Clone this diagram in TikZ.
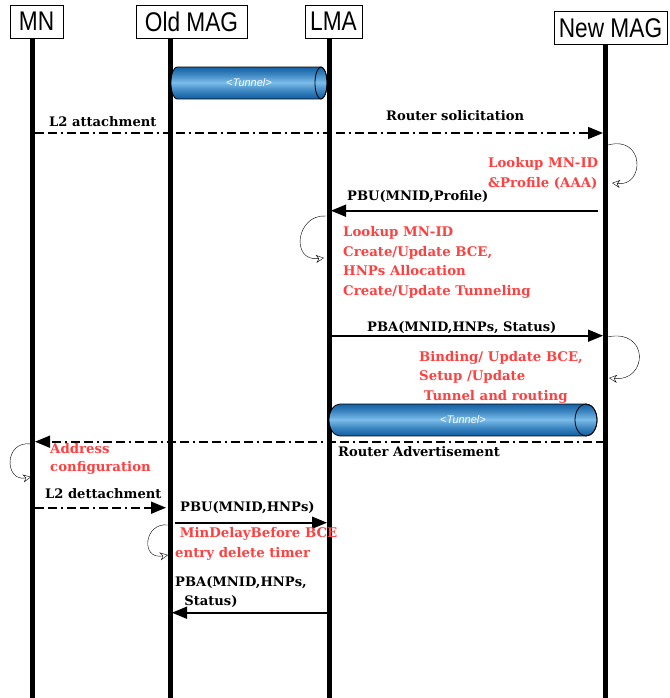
\documentclass[tikz,border=0pt]{standalone}
\usepackage{fontspec}
\setmainfont{DejaVu Serif}
\newfontfamily\hdfont{Liberation Sans}
\newfontfamily\tnfont{Liberation Sans}
\usetikzlibrary{arrows.meta}
\definecolor{notered}{RGB}{255,64,64}
\definecolor{tunneldark}{RGB}{20,98,166}
\definecolor{tunnellight}{RGB}{125,190,235}
\newcommand{\hd}[1]{\scalebox{0.84}[1]{#1}}
\tikzset{
	head/.style={draw, thick, fill=white, font=\hdfont\fontsize{27}{27}\selectfont, minimum height=33pt, inner sep=1pt},
	life/.style={line width=5pt},
	msg/.style={line width=1.6pt, -{Triangle[length=15pt,width=12pt]}},
	async/.style={msg, dash pattern=on 9pt off 4pt on 9pt off 4pt on 2pt off 4pt},
	loopy/.style={thin, -{Stealth[open,length=8pt,width=8pt]}},
	lbl/.style={font=\bfseries\fontsize{13.1}{19}\selectfont, inner sep=0pt, anchor=base west, align=left},
	note/.style={text=notered, font=\bfseries\fontsize{13.3}{19.4}\selectfont, align=left, inner sep=0pt, anchor=base west},
	tunlabel/.style={text=white, font=\tnfont\itshape\fontsize{11}{11}\selectfont}
}
\begin{document}
\begin{tikzpicture}[x=1pt, y=-1pt]
	\useasboundingbox (0,0) rectangle (669,698);

	% entities
	\node[head, minimum width=53pt] (mn) at (36.5,21.5) {\hd{MN}};
	\node[head, minimum width=111pt] (oldmag) at (191.5,21.5) {\hd{Old MAG}};
	\node[head, minimum width=57pt] (lma) at (333.5,21.5) {\hd{LMA}};
	\node[head, minimum width=113pt] (newmag) at (610.5,28) {\hd{New MAG}};

	% lifelines
	\coordinate (mnx) at (32,698);
	\coordinate (omx) at (170,698);
	\coordinate (lmax) at (329,698);
	\coordinate (nmx) at (605,698);
	\draw[life] (mn.south -| mnx) -- (mnx);
	\draw[life] (oldmag.south -| omx) -- (omx);
	\draw[life] (lma.south -| lmax) -- (lmax);
	\draw[life] (newmag.south -| nmx) -- (nmx);

	% old tunnel
	\begin{scope}
		\clip (177,67) -- (321,67) arc[start angle=-90, end angle=90, x radius=6, y radius=16]
			-- (177,99) arc[start angle=90, end angle=270, x radius=6, y radius=16] -- cycle;
		\foreach \i in {0,...,31} {
			\pgfmathsetmacro\mix{100*(1-abs(\i-15.5)/16)^1.3}
			\fill[tunnellight!\mix!tunneldark] (170,67+\i) rectangle (328,68.2+\i);
		}
	\end{scope}
	\draw[thick] (177,67) -- (321,67) arc[start angle=-90, end angle=90, x radius=6, y radius=16]
		-- (177,99) arc[start angle=90, end angle=270, x radius=6, y radius=16] -- cycle;
	\draw[thick] (321,83) ellipse[x radius=6, y radius=16];
	\node[tunlabel] (tun1) at (249,83) {<Tunnel>};

	% attachment
	\coordinate (mn-att) at (35,133);
	\coordinate (nm-att) at (603,133);
	\draw[async] (mn-att) -- (nm-att);
	\node[lbl] (l2att) at (49,126) {L2 attachment};
	\node[lbl] (rsol) at (386,120.7) {Router solicitation};

	\draw[loopy] (608,145) .. controls (645,135) and (645,187) .. (612,183);
	\node[note] (aaa) at (488,187.3) {Lookup MN-ID\\\&Profile (AAA)};

	% PBU
	\coordinate (nm-pbu) at (598,210.7);
	\coordinate (lma-pbu) at (331,210.7);
	\draw[msg] (nm-pbu) -- (lma-pbu);
	\node[lbl] (pbu) at (347,200.7) {PBU(MNID,Profile)};

	\draw[loopy] (326,216) .. controls (296,214) and (290,262) .. (324,258);
	\node[note] (bce) at (343,295) {Lookup MN-ID\\Create/Update BCE,\\HNPs Allocation\\Create/Update Tunneling};

	% PBA
	\coordinate (lma-pba) at (331,335.7);
	\coordinate (nm-pba) at (603,335.7);
	\draw[msg] (lma-pba) -- (nm-pba);
	\node[lbl] (pba) at (367,331.7) {PBA(MNID,HNPs, Status)};

	\draw[loopy] (607,337) .. controls (650,328) and (648,382) .. (609,378);
	\node[note] (bind) at (419,400) {Binding/ Update BCE,\\Setup /Update\\\ Tunnel and routing};

	% new tunnel
	\begin{scope}
		\clip (340,404) -- (586,404) arc[start angle=-90, end angle=90, x radius=11, y radius=16]
			-- (340,436) arc[start angle=90, end angle=270, x radius=11, y radius=16] -- cycle;
		\foreach \i in {0,...,31} {
			\pgfmathsetmacro\mix{100*(1-abs(\i-15.5)/16)^1.3}
			\fill[tunnellight!\mix!tunneldark] (328,404+\i) rectangle (598,405.2+\i);
		}
	\end{scope}
	\draw[thick] (340,404) -- (586,404) arc[start angle=-90, end angle=90, x radius=11, y radius=16]
		-- (340,436) arc[start angle=90, end angle=270, x radius=11, y radius=16] -- cycle;
	\draw[thick] (586,420) ellipse[x radius=11, y radius=16];
	\node[tunlabel] (tun2) at (463,420) {<Tunnel>};

	% router advertisement
	\coordinate (nm-ra) at (605,441.7);
	\coordinate (mn-ra) at (35,441.7);
	\draw[async] (nm-ra) -- (mn-ra);
	\node[lbl] (radv) at (338,456.7) {Router Advertisement};

	\draw[loopy] (31,444) .. controls (4,440) and (4,482) .. (31,477);
	\node[note, font=\bfseries\fontsize{13.3}{18.4}\selectfont] (addr) at (50,471.7) {Address\\configuration};

	% detachment
	\coordinate (mn-det) at (35,507.7);
	\coordinate (om-det) at (166,507.7);
	\draw[async] (mn-det) -- (om-det);
	\node[lbl] (l2det) at (45,498.3) {L2 dettachment};

	\coordinate (om-pbu) at (175,522.7);
	\coordinate (lma-pbu2) at (327,522.7);
	\draw[msg] (om-pbu) -- (lma-pbu2);
	\node[lbl] (pbu2) at (180,511.7) {PBU(MNID,HNPs)};

	\draw[loopy] (168,525) .. controls (144,522) and (140,560) .. (168,555);
	\node[note] (timer) at (175,557.3) {\ MinDelayBefore BCE\\entry delete timer};

	\coordinate (lma-pba2) at (327,612.7);
	\coordinate (om-pba) at (172,612.7);
	\draw[msg] (lma-pba2) -- (om-pba);
	\node[lbl] (pba2) at (175,605) {PBA(MNID,HNPs,\\\ \ Status)};
\end{tikzpicture}
\end{document}
